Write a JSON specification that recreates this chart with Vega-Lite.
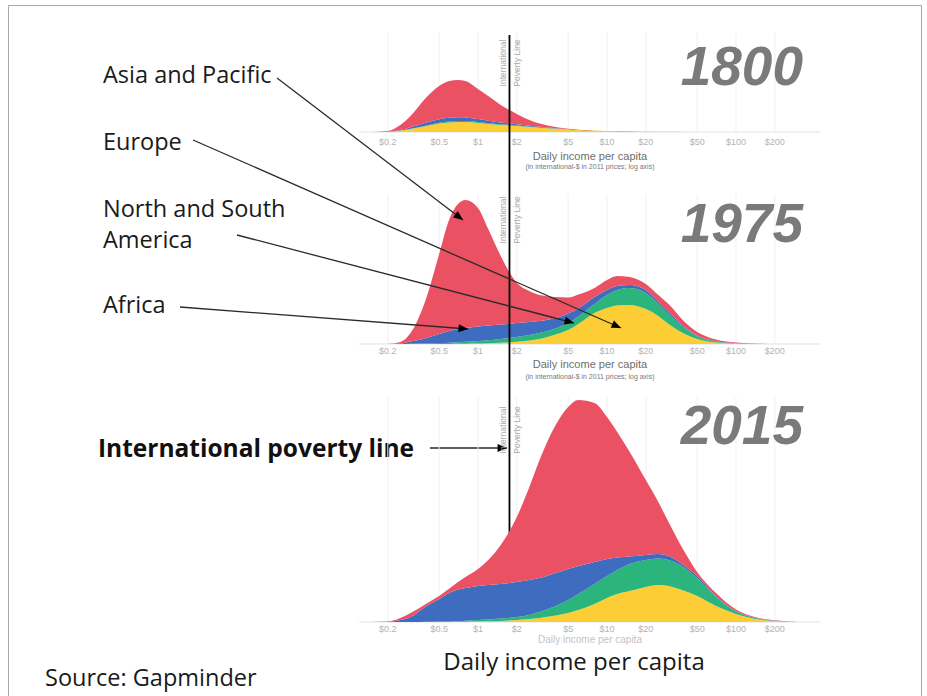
{
  "$schema": "https://vega.github.io/schema/vega-lite/v6.json",
  "width": 927,
  "height": 696,
  "autosize": {"type": "fit", "contains": "padding"},
  "padding": {"left": 8, "top": 5, "right": 6, "bottom": 0},
  "background": "white",
  "config": {"view": {"stroke": "#a8a8a8", "strokeWidth": 1}},
  "datasets": {
    "mountains": [
      {"year":1800,"income":0.15,"Europe":0,"Americas":0,"Africa":0,"Asia":0},
      {"year":1800,"income":0.2,"Europe":0.3,"Americas":0,"Africa":0,"Asia":0.7},
      {"year":1800,"income":0.25,"Europe":1.5,"Americas":0,"Africa":0.5,"Asia":5},
      {"year":1800,"income":0.3,"Europe":3,"Americas":0.2,"Africa":1.5,"Asia":11.3},
      {"year":1800,"income":0.4,"Europe":6,"Americas":0.5,"Africa":3,"Asia":25.5},
      {"year":1800,"income":0.5,"Europe":8.5,"Americas":0.8,"Africa":3.5,"Asia":33.2},
      {"year":1800,"income":0.6,"Europe":9.5,"Americas":1,"Africa":3.8,"Asia":36.7},
      {"year":1800,"income":0.7,"Europe":10,"Americas":1,"Africa":3.8,"Asia":37.2},
      {"year":1800,"income":0.8,"Europe":10,"Americas":1,"Africa":3.6,"Asia":36.4},
      {"year":1800,"income":1,"Europe":9,"Americas":1,"Africa":3,"Asia":30},
      {"year":1800,"income":1.2,"Europe":8,"Americas":0.8,"Africa":2.5,"Asia":24.7},
      {"year":1800,"income":1.5,"Europe":7,"Americas":0.7,"Africa":1.8,"Asia":17.5},
      {"year":1800,"income":2,"Europe":6,"Americas":0.5,"Africa":1.2,"Asia":10.3},
      {"year":1800,"income":2.5,"Europe":5,"Americas":0.4,"Africa":0.8,"Asia":5.8},
      {"year":1800,"income":3,"Europe":4.3,"Americas":0.3,"Africa":0.6,"Asia":3.3},
      {"year":1800,"income":4,"Europe":3.3,"Americas":0.2,"Africa":0.3,"Asia":1.2},
      {"year":1800,"income":5,"Europe":2.6,"Americas":0.1,"Africa":0.15,"Asia":0.35},
      {"year":1800,"income":6,"Europe":2,"Americas":0,"Africa":0.05,"Asia":0.25},
      {"year":1800,"income":8,"Europe":1.4,"Americas":0,"Africa":0,"Asia":0.2},
      {"year":1800,"income":10,"Europe":1,"Americas":0,"Africa":0,"Asia":0.1},
      {"year":1800,"income":12,"Europe":0.8,"Americas":0,"Africa":0,"Asia":0.1},
      {"year":1800,"income":15,"Europe":0.6,"Americas":0,"Africa":0,"Asia":0.1},
      {"year":1800,"income":20,"Europe":0.4,"Americas":0,"Africa":0,"Asia":0.05},
      {"year":1800,"income":25,"Europe":0.25,"Americas":0,"Africa":0,"Asia":0.05},
      {"year":1800,"income":30,"Europe":0.15,"Americas":0,"Africa":0,"Asia":0.05},
      {"year":1800,"income":40,"Europe":0.05,"Americas":0,"Africa":0,"Asia":0.03},
      {"year":1800,"income":50,"Europe":0,"Americas":0,"Africa":0,"Asia":0},
      {"year":1800,"income":70,"Europe":0,"Americas":0,"Africa":0,"Asia":0},
      {"year":1800,"income":100,"Europe":0,"Americas":0,"Africa":0,"Asia":0},
      {"year":1800,"income":150,"Europe":0,"Americas":0,"Africa":0,"Asia":0},
      {"year":1800,"income":200,"Europe":0,"Americas":0,"Africa":0,"Asia":0},
      {"year":1800,"income":300,"Europe":0,"Americas":0,"Africa":0,"Asia":0},
      {"year":1975,"income":0.15,"Europe":0,"Americas":0,"Africa":0,"Asia":0},
      {"year":1975,"income":0.2,"Europe":0,"Americas":0,"Africa":0,"Asia":0},
      {"year":1975,"income":0.25,"Europe":0,"Americas":0,"Africa":0.5,"Asia":1.5},
      {"year":1975,"income":0.3,"Europe":0,"Americas":0.3,"Africa":2.2,"Asia":8.5},
      {"year":1975,"income":0.4,"Europe":0,"Americas":0.5,"Africa":5.5,"Asia":41},
      {"year":1975,"income":0.5,"Europe":0,"Americas":1,"Africa":9,"Asia":80},
      {"year":1975,"income":0.6,"Europe":0,"Americas":1.3,"Africa":11.7,"Asia":112},
      {"year":1975,"income":0.7,"Europe":0.2,"Americas":1.6,"Africa":13.2,"Asia":125},
      {"year":1975,"income":0.8,"Europe":0.3,"Americas":1.9,"Africa":13.8,"Asia":128},
      {"year":1975,"income":1,"Europe":0.5,"Americas":2.5,"Africa":14.5,"Asia":118.5},
      {"year":1975,"income":1.2,"Europe":0.8,"Americas":3,"Africa":14.7,"Asia":96.5},
      {"year":1975,"income":1.5,"Europe":1.2,"Americas":3.8,"Africa":14.5,"Asia":68.5},
      {"year":1975,"income":2,"Europe":2.2,"Americas":4.8,"Africa":14,"Asia":40},
      {"year":1975,"income":2.5,"Europe":3.5,"Americas":5.5,"Africa":13,"Asia":31},
      {"year":1975,"income":3,"Europe":5,"Americas":6,"Africa":12,"Asia":26},
      {"year":1975,"income":4,"Europe":9.5,"Americas":6,"Africa":10.5,"Asia":21},
      {"year":1975,"income":5,"Europe":14,"Americas":7,"Africa":9.5,"Asia":16},
      {"year":1975,"income":6,"Europe":20,"Americas":7.5,"Africa":8,"Asia":14},
      {"year":1975,"income":8,"Europe":31,"Americas":9,"Africa":7,"Asia":9},
      {"year":1975,"income":10,"Europe":36,"Americas":13,"Africa":5,"Asia":10},
      {"year":1975,"income":12,"Europe":38.5,"Americas":15.5,"Africa":4,"Asia":10},
      {"year":1975,"income":15,"Europe":39,"Americas":17,"Africa":3,"Asia":8},
      {"year":1975,"income":20,"Europe":35,"Americas":16,"Africa":3,"Asia":6},
      {"year":1975,"income":25,"Europe":28,"Americas":12,"Africa":2,"Asia":7},
      {"year":1975,"income":30,"Europe":20,"Americas":10,"Africa":2,"Asia":8},
      {"year":1975,"income":40,"Europe":10,"Americas":6,"Africa":1,"Asia":5},
      {"year":1975,"income":50,"Europe":5,"Americas":3,"Africa":0.5,"Asia":3.5},
      {"year":1975,"income":70,"Europe":1.5,"Americas":1,"Africa":0.2,"Asia":1.8},
      {"year":1975,"income":100,"Europe":0.4,"Americas":0.3,"Africa":0.1,"Asia":0.7},
      {"year":1975,"income":150,"Europe":0,"Americas":0.1,"Africa":0,"Asia":0.2},
      {"year":1975,"income":200,"Europe":0,"Americas":0,"Africa":0,"Asia":0},
      {"year":1975,"income":300,"Europe":0,"Americas":0,"Africa":0,"Asia":0},
      {"year":2015,"income":0.15,"Europe":0,"Americas":0,"Africa":0,"Asia":0},
      {"year":2015,"income":0.2,"Europe":0,"Americas":0,"Africa":0.3,"Asia":0.2},
      {"year":2015,"income":0.25,"Europe":0,"Americas":0,"Africa":2,"Asia":2},
      {"year":2015,"income":0.3,"Europe":0,"Americas":0,"Africa":5,"Asia":4},
      {"year":2015,"income":0.4,"Europe":0,"Americas":0.2,"Africa":15.8,"Asia":2.5},
      {"year":2015,"income":0.5,"Europe":0,"Americas":0.5,"Africa":22.5,"Asia":3},
      {"year":2015,"income":0.6,"Europe":0,"Americas":0.7,"Africa":28.3,"Asia":4.5},
      {"year":2015,"income":0.7,"Europe":0.2,"Americas":0.8,"Africa":31.5,"Asia":7.5},
      {"year":2015,"income":0.8,"Europe":0.3,"Americas":1,"Africa":32.7,"Asia":11},
      {"year":2015,"income":1,"Europe":0.5,"Americas":1.5,"Africa":34,"Asia":17},
      {"year":2015,"income":1.2,"Europe":0.7,"Americas":1.8,"Africa":34.5,"Asia":25},
      {"year":2015,"income":1.5,"Europe":1,"Americas":2.5,"Africa":34.5,"Asia":39},
      {"year":2015,"income":2,"Europe":2,"Americas":3,"Africa":35,"Asia":65},
      {"year":2015,"income":2.5,"Europe":3,"Americas":4,"Africa":35,"Asia":93},
      {"year":2015,"income":3,"Europe":4,"Americas":6,"Africa":34,"Asia":118},
      {"year":2015,"income":4,"Europe":6.5,"Americas":9.5,"Africa":33,"Asia":148},
      {"year":2015,"income":5,"Europe":9,"Americas":13,"Africa":31,"Asia":162},
      {"year":2015,"income":6,"Europe":12,"Americas":16,"Africa":28,"Asia":166},
      {"year":2015,"income":8,"Europe":18,"Americas":20,"Africa":22,"Asia":159},
      {"year":2015,"income":10,"Europe":24,"Americas":22,"Africa":17,"Asia":142},
      {"year":2015,"income":12,"Europe":28,"Americas":24,"Africa":12.5,"Asia":125.5},
      {"year":2015,"income":15,"Europe":31,"Americas":27,"Africa":7.5,"Asia":104.5},
      {"year":2015,"income":20,"Europe":35,"Americas":27,"Africa":5,"Asia":75},
      {"year":2015,"income":25,"Europe":37,"Americas":26.5,"Africa":4.5,"Asia":52},
      {"year":2015,"income":30,"Europe":36,"Americas":26,"Africa":4,"Asia":34},
      {"year":2015,"income":40,"Europe":31,"Americas":23,"Africa":2,"Asia":14},
      {"year":2015,"income":50,"Europe":26,"Americas":18,"Africa":2,"Asia":4},
      {"year":2015,"income":70,"Europe":16,"Americas":9,"Africa":1,"Asia":3},
      {"year":2015,"income":100,"Europe":8,"Americas":2.5,"Africa":0.5,"Asia":1.5},
      {"year":2015,"income":150,"Europe":2.5,"Americas":0.7,"Africa":0.2,"Asia":0.6},
      {"year":2015,"income":200,"Europe":1.1,"Americas":0.2,"Africa":0.2,"Asia":0.3},
      {"year":2015,"income":300,"Europe":0,"Americas":0,"Africa":0,"Asia":0}
    ],
    "ticks": [
      {"income":0.2,"label":"$0.2"},
      {"income":0.5,"label":"$0.5"},
      {"income":1,"label":"$1"},
      {"income":2,"label":"$2"},
      {"income":5,"label":"$5"},
      {"income":10,"label":"$10"},
      {"income":20,"label":"$20"},
      {"income":50,"label":"$50"},
      {"income":100,"label":"$100"},
      {"income":200,"label":"$200"}
    ],
    "baselines": [
      {"from":0.12,"to":450}
    ],
    "panelText": [
      {"year":1800,"role":"year","text":"1800","income":330.7,"y":47},
      {"year":1800,"role":"axisTitle","text":"Daily income per capita","income":7.38,"y":-25},
      {"year":1800,"role":"axisNote","text":"(in international-$ in 2011 prices; log axis)","income":7.38,"y":-35},
      {"year":1800,"role":"povertyTag","text":"International","income":1.562,"y":69},
      {"year":1800,"role":"povertyTag","text":"Poverty Line","income":2.006,"y":69},
      {"year":1975,"role":"year","text":"1975","income":330.7,"y":102},
      {"year":1975,"role":"axisTitle","text":"Daily income per capita","income":7.38,"y":-21},
      {"year":1975,"role":"axisNote","text":"(in international-$ in 2011 prices; log axis)","income":7.38,"y":-33},
      {"year":1975,"role":"povertyTag","text":"International","income":1.562,"y":124},
      {"year":1975,"role":"povertyTag","text":"Poverty Line","income":2.006,"y":124},
      {"year":2015,"role":"year","text":"2015","income":330.7,"y":178},
      {"year":2015,"role":"axisTitle","text":"Daily income per capita","income":7.38,"y":-18},
      {"year":2015,"role":"povertyTag","text":"International","income":1.562,"y":192},
      {"year":2015,"role":"povertyTag","text":"Poverty Line","income":2.006,"y":192}
    ],
    "povertyLine": [
      {"income":1.754,"top":309,"bottom":-193}
    ],
    "regionLabels": [
      {"label":"Asia and Pacific","income":0.001239,"y":261},
      {"label":"Europe","income":0.001239,"y":194},
      {"label":"North and South\nAmerica","income":0.001239,"y":127},
      {"label":"Africa","income":0.001239,"y":31}
    ],
    "povertyLabel": [
      {"label":"International poverty line","income":0.001133,"y":-113}
    ],
    "footer": [
      {"role":"caption","text":"Daily income per capita","income":5.55,"y":-48},
      {"role":"source","text":"Source: Gapminder","income":0.00044,"y":-64}
    ],
    "arrows": [
      {"arrow":"asia","income":0.02766,"y":266},
      {"arrow":"asia","income":0.765,"y":124},
      {"arrow":"europe","income":0.00618,"y":204},
      {"arrow":"europe","income":12.84,"y":16},
      {"arrow":"americas","income":0.01355,"y":109},
      {"arrow":"americas","income":5.55,"y":21},
      {"arrow":"africa","income":0.0049,"y":37},
      {"arrow":"africa","income":0.837,"y":15},
      {"arrow":"poverty","income":0.4246,"y":-104},
      {"arrow":"poverty","income":1.679,"y":-104}
    ],
    "arrowheads": [
      {"arrow":"asia","income":0.765,"y":124,"heading":127},
      {"arrow":"europe","income":12.84,"y":16,"heading":114},
      {"arrow":"americas","income":5.55,"y":21,"heading":105},
      {"arrow":"africa","income":0.837,"y":15,"heading":94},
      {"arrow":"poverty","income":1.679,"y":-104,"heading":90}
    ]
  },
  "encoding": {
    "x": {"field": "income", "type": "quantitative", "scale": {"type": "log", "domain": [0.00022734, 2717], "nice": false}, "axis": null}
  },
  "resolve": {"scale": {"y": "independent"}},
  "layer": [
    {
      "layer": [
        {"data": {"name": "ticks"}, "mark": {"type": "rule", "color": "#f0f0f0", "strokeWidth": 1},
         "encoding": {"y": {"datum": 0, "type": "quantitative", "scale": {"domain": [-564, 127], "nice": false, "zero": false}, "axis": null}, "y2": {"datum": 100}}},
        {"data": {"name": "baselines"}, "mark": {"type": "rule", "color": "#e2e2e2"},
         "encoding": {"x": {"field": "from", "type": "quantitative"}, "x2": {"field": "to"}, "y": {"datum": 0, "type": "quantitative", "scale": {"domain": [-564, 127], "nice": false, "zero": false}, "axis": null}}},
        {"data": {"name": "mountains"},
         "transform": [
           {"filter": {"field": "year", "equal": 1800}},
           {"fold": ["Europe", "Americas", "Africa", "Asia"], "as": ["region", "density"]},
           {"stack": "density", "groupby": ["income"], "as": ["lower", "upper"]}
         ],
         "mark": {"type": "area", "interpolate": "monotone"},
         "encoding": {
           "y": {"field": "upper", "type": "quantitative", "scale": {"domain": [-564, 127], "nice": false, "zero": false}, "axis": null},
           "y2": {"field": "lower"},
           "color": {"field": "region", "type": "nominal", "scale": {"domain": ["Europe", "Americas", "Africa", "Asia"], "range": ["#fdcd35", "#2bb47c", "#3e6dbf", "#ea5264"]}, "legend": null}
         }},
        {"data": {"name": "ticks"}, "mark": {"type": "text", "font": "Liberation Sans", "fontSize": 9, "color": "#b3b3b3", "baseline": "middle", "align": "center"},
         "encoding": {"y": {"datum": -10, "type": "quantitative", "scale": {"domain": [-564, 127], "nice": false, "zero": false}, "axis": null}, "text": {"field": "label"}}},
        {"data": {"name": "panelText"}, "transform": [{"filter": "datum.year == 1800 && datum.role == 'axisTitle'"}],
         "mark": {"type": "text", "font": "Liberation Sans", "fontSize": 11, "color": "#6e6e6e", "baseline": "middle", "align": "center"},
         "encoding": {"y": {"field": "y", "type": "quantitative", "scale": {"domain": [-564, 127], "nice": false, "zero": false}, "axis": null}, "text": {"field": "text"}}},
        {"data": {"name": "panelText"}, "transform": [{"filter": "datum.year == 1800 && datum.role == 'axisNote'"}],
         "mark": {"type": "text", "font": "Liberation Sans", "fontSize": 7, "color": "#777777", "baseline": "middle", "align": "center"},
         "encoding": {"y": {"field": "y", "type": "quantitative", "scale": {"domain": [-564, 127], "nice": false, "zero": false}, "axis": null}, "text": {"field": "text"}}},
        {"data": {"name": "panelText"}, "transform": [{"filter": "datum.year == 1800 && datum.role == 'year'"}],
         "mark": {"type": "text", "font": "Liberation Sans", "fontSize": 55, "fontWeight": "bold", "fontStyle": "italic", "color": "#7a7a7a", "baseline": "alphabetic", "align": "right"},
         "encoding": {"y": {"field": "y", "type": "quantitative", "scale": {"domain": [-564, 127], "nice": false, "zero": false}, "axis": null}, "text": {"field": "text"}}},
        {"data": {"name": "panelText"}, "transform": [{"filter": "datum.year == 1800 && datum.role == 'povertyTag'"}],
         "mark": {"type": "text", "font": "Liberation Sans", "fontSize": 8.5, "color": "#aaaaaa", "baseline": "middle", "align": "center", "angle": 270},
         "encoding": {"y": {"field": "y", "type": "quantitative", "scale": {"domain": [-564, 127], "nice": false, "zero": false}, "axis": null}, "text": {"field": "text"}}}
      ]
    },
    {
      "layer": [
        {"data": {"name": "ticks"}, "mark": {"type": "rule", "color": "#f0f0f0", "strokeWidth": 1},
         "encoding": {"y": {"datum": 0, "type": "quantitative", "scale": {"domain": [-352, 339], "nice": false, "zero": false}, "axis": null}, "y2": {"datum": 150}}},
        {"data": {"name": "baselines"}, "mark": {"type": "rule", "color": "#e2e2e2"},
         "encoding": {"x": {"field": "from", "type": "quantitative"}, "x2": {"field": "to"}, "y": {"datum": 0, "type": "quantitative", "scale": {"domain": [-352, 339], "nice": false, "zero": false}, "axis": null}}},
        {"data": {"name": "mountains"},
         "transform": [
           {"filter": {"field": "year", "equal": 1975}},
           {"fold": ["Europe", "Americas", "Africa", "Asia"], "as": ["region", "density"]},
           {"stack": "density", "groupby": ["income"], "as": ["lower", "upper"]}
         ],
         "mark": {"type": "area", "interpolate": "monotone"},
         "encoding": {
           "y": {"field": "upper", "type": "quantitative", "scale": {"domain": [-352, 339], "nice": false, "zero": false}, "axis": null},
           "y2": {"field": "lower"},
           "color": {"field": "region", "type": "nominal", "scale": {"domain": ["Europe", "Americas", "Africa", "Asia"], "range": ["#fdcd35", "#2bb47c", "#3e6dbf", "#ea5264"]}, "legend": null}
         }},
        {"data": {"name": "ticks"}, "mark": {"type": "text", "font": "Liberation Sans", "fontSize": 9, "color": "#b3b3b3", "baseline": "middle", "align": "center"},
         "encoding": {"y": {"datum": -7, "type": "quantitative", "scale": {"domain": [-352, 339], "nice": false, "zero": false}, "axis": null}, "text": {"field": "label"}}},
        {"data": {"name": "panelText"}, "transform": [{"filter": "datum.year == 1975 && datum.role == 'axisTitle'"}],
         "mark": {"type": "text", "font": "Liberation Sans", "fontSize": 11, "color": "#6e6e6e", "baseline": "middle", "align": "center"},
         "encoding": {"y": {"field": "y", "type": "quantitative", "scale": {"domain": [-352, 339], "nice": false, "zero": false}, "axis": null}, "text": {"field": "text"}}},
        {"data": {"name": "panelText"}, "transform": [{"filter": "datum.year == 1975 && datum.role == 'axisNote'"}],
         "mark": {"type": "text", "font": "Liberation Sans", "fontSize": 7, "color": "#777777", "baseline": "middle", "align": "center"},
         "encoding": {"y": {"field": "y", "type": "quantitative", "scale": {"domain": [-352, 339], "nice": false, "zero": false}, "axis": null}, "text": {"field": "text"}}},
        {"data": {"name": "panelText"}, "transform": [{"filter": "datum.year == 1975 && datum.role == 'year'"}],
         "mark": {"type": "text", "font": "Liberation Sans", "fontSize": 55, "fontWeight": "bold", "fontStyle": "italic", "color": "#7a7a7a", "baseline": "alphabetic", "align": "right"},
         "encoding": {"y": {"field": "y", "type": "quantitative", "scale": {"domain": [-352, 339], "nice": false, "zero": false}, "axis": null}, "text": {"field": "text"}}},
        {"data": {"name": "panelText"}, "transform": [{"filter": "datum.year == 1975 && datum.role == 'povertyTag'"}],
         "mark": {"type": "text", "font": "Liberation Sans", "fontSize": 8.5, "color": "#aaaaaa", "baseline": "middle", "align": "center", "angle": 270},
         "encoding": {"y": {"field": "y", "type": "quantitative", "scale": {"domain": [-352, 339], "nice": false, "zero": false}, "axis": null}, "text": {"field": "text"}}},
        {"data": {"name": "povertyLine"}, "mark": {"type": "rule", "color": "#000000", "strokeWidth": 1.8},
         "encoding": {"y": {"field": "top", "type": "quantitative", "scale": {"domain": [-352, 339], "nice": false, "zero": false}, "axis": null}, "y2": {"field": "bottom"}}},
        {"data": {"name": "regionLabels"}, "mark": {"type": "text", "font": "Open Sans", "fontSize": 23.5, "color": "#1a1a1a", "baseline": "alphabetic", "align": "left", "lineBreak": "\n", "lineHeight": 31},
         "encoding": {"y": {"field": "y", "type": "quantitative", "scale": {"domain": [-352, 339], "nice": false, "zero": false}, "axis": null}, "text": {"field": "label"}}},
        {"data": {"name": "povertyLabel"}, "mark": {"type": "text", "font": "Open Sans", "fontSize": 24.5, "fontWeight": "bold", "color": "#111111", "baseline": "alphabetic", "align": "left"},
         "encoding": {"y": {"field": "y", "type": "quantitative", "scale": {"domain": [-352, 339], "nice": false, "zero": false}, "axis": null}, "text": {"field": "label"}}},
        {"data": {"name": "arrows"}, "mark": {"type": "line", "color": "#2a2a2a", "strokeWidth": 1.3},
         "encoding": {"y": {"field": "y", "type": "quantitative", "scale": {"domain": [-352, 339], "nice": false, "zero": false}, "axis": null}, "detail": {"field": "arrow"}}},
        {"data": {"name": "arrowheads"}, "mark": {"type": "point", "shape": "M0,0L-0.42,1L0.42,1Z", "filled": true, "color": "#000000", "opacity": 1, "size": 360},
         "encoding": {"y": {"field": "y", "type": "quantitative", "scale": {"domain": [-352, 339], "nice": false, "zero": false}, "axis": null}, "angle": {"field": "heading", "type": "quantitative", "scale": null}}}
      ]
    },
    {
      "layer": [
        {"data": {"name": "ticks"}, "mark": {"type": "rule", "color": "#f0f0f0", "strokeWidth": 1},
         "encoding": {"y": {"datum": 0, "type": "quantitative", "scale": {"domain": [-74, 617], "nice": false, "zero": false}, "axis": null}, "y2": {"datum": 225}}},
        {"data": {"name": "baselines"}, "mark": {"type": "rule", "color": "#e2e2e2"},
         "encoding": {"x": {"field": "from", "type": "quantitative"}, "x2": {"field": "to"}, "y": {"datum": 0, "type": "quantitative", "scale": {"domain": [-74, 617], "nice": false, "zero": false}, "axis": null}}},
        {"data": {"name": "mountains"},
         "transform": [
           {"filter": {"field": "year", "equal": 2015}},
           {"fold": ["Europe", "Americas", "Africa", "Asia"], "as": ["region", "density"]},
           {"stack": "density", "groupby": ["income"], "as": ["lower", "upper"]}
         ],
         "mark": {"type": "area", "interpolate": "monotone"},
         "encoding": {
           "y": {"field": "upper", "type": "quantitative", "scale": {"domain": [-74, 617], "nice": false, "zero": false}, "axis": null},
           "y2": {"field": "lower"},
           "color": {"field": "region", "type": "nominal", "scale": {"domain": ["Europe", "Americas", "Africa", "Asia"], "range": ["#fdcd35", "#2bb47c", "#3e6dbf", "#ea5264"]}, "legend": null}
         }},
        {"data": {"name": "ticks"}, "mark": {"type": "text", "font": "Liberation Sans", "fontSize": 9, "color": "#b3b3b3", "baseline": "middle", "align": "center"},
         "encoding": {"y": {"datum": -7, "type": "quantitative", "scale": {"domain": [-74, 617], "nice": false, "zero": false}, "axis": null}, "text": {"field": "label"}}},
        {"data": {"name": "panelText"}, "transform": [{"filter": "datum.year == 2015 && datum.role == 'axisTitle'"}],
         "mark": {"type": "text", "font": "Liberation Sans", "fontSize": 10, "color": "#c4c4c4", "baseline": "middle", "align": "center"},
         "encoding": {"y": {"field": "y", "type": "quantitative", "scale": {"domain": [-74, 617], "nice": false, "zero": false}, "axis": null}, "text": {"field": "text"}}},
        {"data": {"name": "panelText"}, "transform": [{"filter": "datum.year == 2015 && datum.role == 'year'"}],
         "mark": {"type": "text", "font": "Liberation Sans", "fontSize": 55, "fontWeight": "bold", "fontStyle": "italic", "color": "#7a7a7a", "baseline": "alphabetic", "align": "right"},
         "encoding": {"y": {"field": "y", "type": "quantitative", "scale": {"domain": [-74, 617], "nice": false, "zero": false}, "axis": null}, "text": {"field": "text"}}},
        {"data": {"name": "panelText"}, "transform": [{"filter": "datum.year == 2015 && datum.role == 'povertyTag'"}],
         "mark": {"type": "text", "font": "Liberation Sans", "fontSize": 8.5, "color": "#aaaaaa", "baseline": "middle", "align": "center", "angle": 270},
         "encoding": {"y": {"field": "y", "type": "quantitative", "scale": {"domain": [-74, 617], "nice": false, "zero": false}, "axis": null}, "text": {"field": "text"}}},
        {"data": {"name": "footer"}, "transform": [{"filter": "datum.role == 'caption'"}],
         "mark": {"type": "text", "font": "Open Sans", "fontSize": 24, "color": "#1a1a1a", "baseline": "alphabetic", "align": "center"},
         "encoding": {"y": {"field": "y", "type": "quantitative", "scale": {"domain": [-74, 617], "nice": false, "zero": false}, "axis": null}, "text": {"field": "text"}}},
        {"data": {"name": "footer"}, "transform": [{"filter": "datum.role == 'source'"}],
         "mark": {"type": "text", "font": "Open Sans", "fontSize": 23.5, "color": "#1a1a1a", "baseline": "alphabetic", "align": "left"},
         "encoding": {"y": {"field": "y", "type": "quantitative", "scale": {"domain": [-74, 617], "nice": false, "zero": false}, "axis": null}, "text": {"field": "text"}}}
      ]
    }
  ]
}
